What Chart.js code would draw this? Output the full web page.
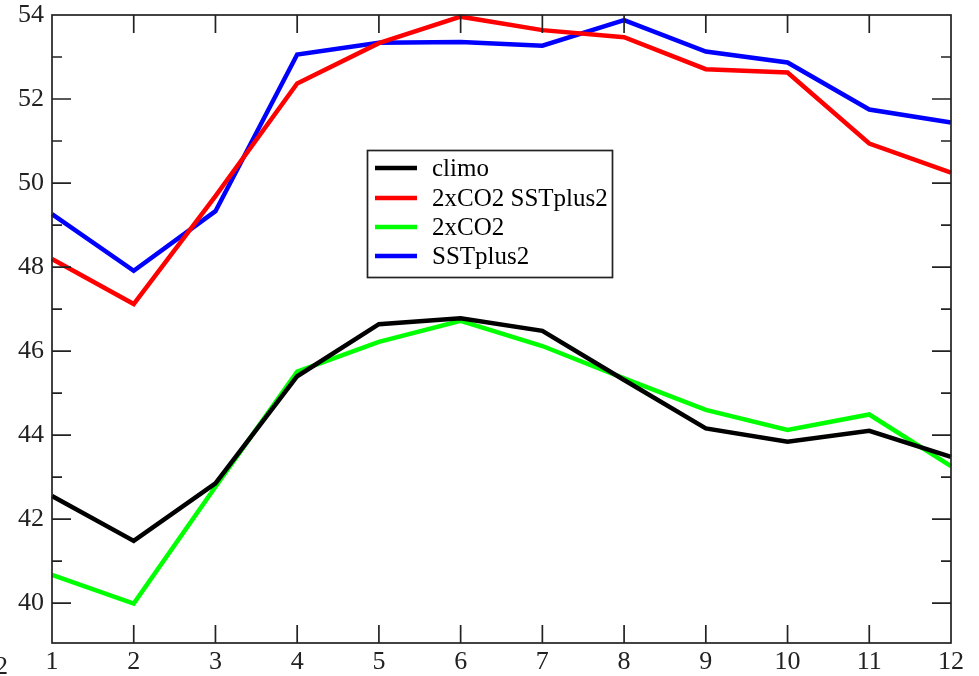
<!DOCTYPE html>
<html><head><meta charset="utf-8">
<script src="https://cdn.jsdelivr.net/npm/chart.js@4"></script>
<style>html,body{margin:0;padding:0;background:#fff}#wrap{width:979px;height:676px;position:relative}</style>
</head><body><div id="wrap"><canvas id="c" width="979" height="676"></canvas></div>
<script>
const months = [1,2,3,4,5,6,7,8,9,10,11,12];
const climo = [42.55,41.48,42.85,45.40,46.64,46.78,46.48,45.31,44.16,43.84,44.10,43.48];
const co2sst = [48.19,47.12,49.69,52.37,53.33,53.96,53.64,53.47,52.71,52.63,50.94,50.25];
const co2 = [40.67,39.99,42.77,45.51,46.22,46.72,46.12,45.35,44.60,44.12,44.49,43.26];
const sstplus = [49.26,47.91,49.33,53.06,53.34,53.36,53.27,53.88,53.13,52.87,51.75,51.44];
const seriesNames = ["climo","2xCO2 SSTplus2","2xCO2","SSTplus2"];
const seriesColors = ["#000000","#ff0000","#00ff00","#0000ff"];
const yTickLabels = [40,42,44,46,48,50,52,54];
const xTickLabels = months;

const seriesValues = [climo, co2sst, co2, sstplus];
const FONT = "'Liberation Serif', 'DejaVu Serif', serif";

const datasets = seriesValues.map((vals, i) => ({
  label: seriesNames[i],
  data: months.map((m, j) => ({x: m, y: vals[j]})),
  borderColor: seriesColors[i],
  backgroundColor: seriesColors[i],
  borderWidth: 4.5,
  pointRadius: 0,
  tension: 0,
  clip: false
}));

const framePlugin = {
  id: 'frame',
  afterDatasetsDraw(chart) {
    const {ctx, chartArea: a, scales} = chart;
    const xs = scales.x, ys = scales.y;
    ctx.save();
    ctx.strokeStyle = '#222';
    ctx.lineWidth = 1.7;
    ctx.strokeRect(a.left, a.top, a.right - a.left, a.bottom - a.top);
    ctx.beginPath();
    months.forEach(m => {
      const px = xs.getPixelForValue(m);
      if (m > 1 && m < 12) {
        ctx.moveTo(px, a.bottom); ctx.lineTo(px, a.bottom - 18);
        ctx.moveTo(px, a.top); ctx.lineTo(px, a.top + 18);
      }
    });
    for (let v = 40; v <= 53; v++) {
      const py = ys.getPixelForValue(v);
      const len = (v % 2 === 0) ? 19 : 10;
      ctx.moveTo(a.left, py); ctx.lineTo(a.left + len, py);
      ctx.moveTo(a.right, py); ctx.lineTo(a.right - len, py);
    }
    ctx.stroke();
    ctx.restore();
  },
  afterDraw(chart) {
    const {ctx} = chart;
    ctx.save();
    ctx.fillStyle = '#fff';
    ctx.fillRect(367, 150, 245, 127);
    ctx.strokeStyle = '#222';
    ctx.lineWidth = 1.7;
    ctx.strokeRect(367.5, 150.5, 245, 127);
    const ly = [168, 198, 227, 256];
    ctx.font = "25px " + FONT;
    ctx.textBaseline = 'middle';
    ctx.textAlign = 'left';
    seriesNames.forEach((n, i) => {
      ctx.strokeStyle = seriesColors[i];
      ctx.lineWidth = 4.5;
      ctx.beginPath();
      ctx.moveTo(375, ly[i]); ctx.lineTo(417, ly[i]);
      ctx.stroke();
      ctx.fillStyle = '#000';
      ctx.fillText(n, 432, ly[i] + 1);
    });
    ctx.font = "26px " + FONT;
    ctx.textAlign = 'right';
    ctx.textBaseline = 'alphabetic';
    ctx.fillStyle = '#222';
    ctx.fillText('2', 8, 674);
    ctx.restore();
  }
};

new Chart(document.getElementById('c'), {
  type: 'line',
  data: {datasets},
  options: {
    responsive: false,
    animation: false,
    layout: {padding: {left: 0, right: 28, top: 15, bottom: 0}},
    plugins: {legend: {display: false}, tooltip: {enabled: false}},
    scales: {
      x: {
        type: 'linear', min: 1, max: 12,
        grid: {display: false, drawTicks: false},
        border: {display: false},
        afterBuildTicks: s => { s.ticks = xTickLabels.map(v => ({value: v})); },
        afterFit: s => { s.height = 33; s.paddingLeft = 0; s.paddingRight = 0; },
        ticks: {color: '#222', font: {family: FONT, size: 26}, padding: 4, maxRotation: 0, autoSkip: false}
      },
      y: {
        type: 'linear', min: 39.05, max: 54,
        grid: {display: false, drawTicks: false},
        border: {display: false},
        afterBuildTicks: s => { s.ticks = yTickLabels.map(v => ({value: v})); },
        afterFit: s => { s.width = 52; s.paddingTop = 0; s.paddingBottom = 0; },
        ticks: {color: '#222', font: {family: FONT, size: 26}, padding: 8, autoSkip: false}
      }
    }
  },
  plugins: [framePlugin]
});
</script></body></html>
